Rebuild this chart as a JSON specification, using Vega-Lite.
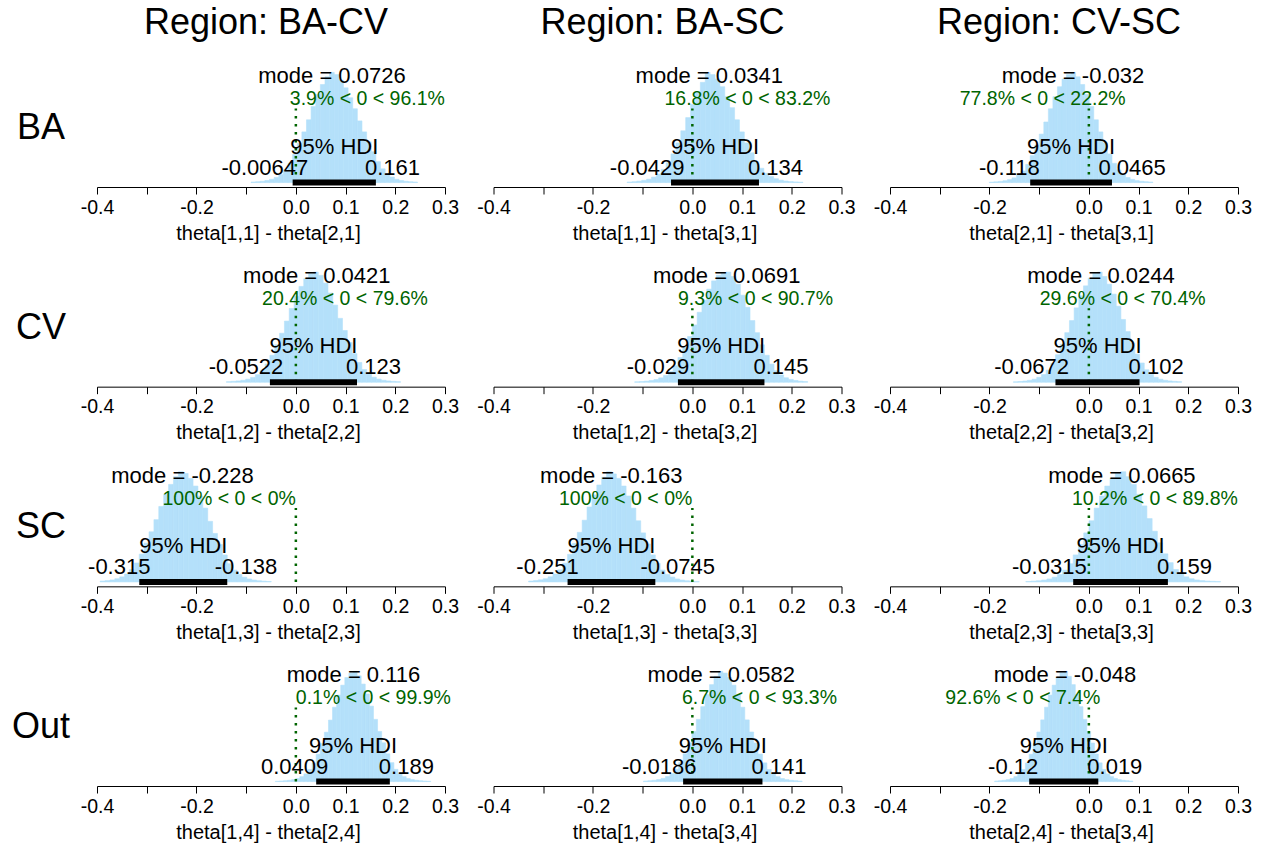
{
"$schema": "https://vega.github.io/schema/vega-lite/v6.json",
"background": "white",
"padding": {"left": 11, "top": 4, "right": 5, "bottom": 0},
"bounds": "flush",
"columns": 3,
"spacing": {"row": 80.67, "column": 48.5},
"datasets": {
"stats": [
{"p":1,"mode":0.0726,"lo":-0.00647,"hi":0.161,"mid":0.0773,"ml":"mode = 0.0726","cl":"3.9% < 0 < 96.1%","ll":"-0.00647","hl":"0.161"},
{"p":2,"mode":0.0341,"lo":-0.0429,"hi":0.134,"mid":0.0456,"ml":"mode = 0.0341","cl":"16.8% < 0 < 83.2%","ll":"-0.0429","hl":"0.134"},
{"p":3,"mode":-0.032,"lo":-0.118,"hi":0.0465,"mid":-0.0358,"ml":"mode = -0.032","cl":"77.8% < 0 < 22.2%","ll":"-0.118","hl":"0.0465"},
{"p":4,"mode":0.0421,"lo":-0.0522,"hi":0.123,"mid":0.0354,"ml":"mode = 0.0421","cl":"20.4% < 0 < 79.6%","ll":"-0.0522","hl":"0.123"},
{"p":5,"mode":0.0691,"lo":-0.029,"hi":0.145,"mid":0.058,"ml":"mode = 0.0691","cl":"9.3% < 0 < 90.7%","ll":"-0.029","hl":"0.145"},
{"p":6,"mode":0.0244,"lo":-0.0672,"hi":0.102,"mid":0.0174,"ml":"mode = 0.0244","cl":"29.6% < 0 < 70.4%","ll":"-0.0672","hl":"0.102"},
{"p":7,"mode":-0.228,"lo":-0.315,"hi":-0.138,"mid":-0.2265,"ml":"mode = -0.228","cl":"100% < 0 < 0%","ll":"-0.315","hl":"-0.138"},
{"p":8,"mode":-0.163,"lo":-0.251,"hi":-0.0745,"mid":-0.1628,"ml":"mode = -0.163","cl":"100% < 0 < 0%","ll":"-0.251","hl":"-0.0745"},
{"p":9,"mode":0.0665,"lo":-0.0315,"hi":0.159,"mid":0.0638,"ml":"mode = 0.0665","cl":"10.2% < 0 < 89.8%","ll":"-0.0315","hl":"0.159"},
{"p":10,"mode":0.116,"lo":0.0409,"hi":0.189,"mid":0.115,"ml":"mode = 0.116","cl":"0.1% < 0 < 99.9%","ll":"0.0409","hl":"0.189"},
{"p":11,"mode":0.0582,"lo":-0.0186,"hi":0.141,"mid":0.0612,"ml":"mode = 0.0582","cl":"6.7% < 0 < 93.3%","ll":"-0.0186","hl":"0.141"},
{"p":12,"mode":-0.048,"lo":-0.12,"hi":0.019,"mid":-0.0505,"ml":"mode = -0.048","cl":"92.6% < 0 < 7.4%","ll":"-0.12","hl":"0.019"}
],
"hist": [
{"p":1,"a":-0.0902,"b":-0.0809,"h":0.005},{"p":1,"a":-0.0809,"b":-0.0716,"h":0.008},{"p":1,"a":-0.0716,"b":-0.0623,"h":0.012},{"p":1,"a":-0.0623,"b":-0.053,"h":0.019},{"p":1,"a":-0.053,"b":-0.0437,"h":0.03},{"p":1,"a":-0.0437,"b":-0.0344,"h":0.047},{"p":1,"a":-0.0344,"b":-0.0251,"h":0.073},{"p":1,"a":-0.0251,"b":-0.0158,"h":0.115},{"p":1,"a":-0.0158,"b":-0.0065,"h":0.175},{"p":1,"a":-0.0065,"b":0.0028,"h":0.255},{"p":1,"a":0.0028,"b":0.0121,"h":0.355},{"p":1,"a":0.0121,"b":0.0214,"h":0.46},{"p":1,"a":0.0214,"b":0.0307,"h":0.57},{"p":1,"a":0.0307,"b":0.04,"h":0.69},{"p":1,"a":0.04,"b":0.0493,"h":0.8},{"p":1,"a":0.0493,"b":0.0586,"h":0.89},{"p":1,"a":0.0586,"b":0.0679,"h":0.96},{"p":1,"a":0.0679,"b":0.0772,"h":1.0},{"p":1,"a":0.0772,"b":0.0865,"h":0.98},{"p":1,"a":0.0865,"b":0.0958,"h":0.93},{"p":1,"a":0.0958,"b":0.1051,"h":0.86},{"p":1,"a":0.1051,"b":0.1144,"h":0.77},{"p":1,"a":0.1144,"b":0.1237,"h":0.67},{"p":1,"a":0.1237,"b":0.133,"h":0.56},{"p":1,"a":0.133,"b":0.1424,"h":0.46},{"p":1,"a":0.1424,"b":0.1517,"h":0.37},{"p":1,"a":0.1517,"b":0.161,"h":0.28},{"p":1,"a":0.161,"b":0.1703,"h":0.19},{"p":1,"a":0.1703,"b":0.1796,"h":0.125},{"p":1,"a":0.1796,"b":0.1889,"h":0.08},{"p":1,"a":0.1889,"b":0.1982,"h":0.05},{"p":1,"a":0.1982,"b":0.2075,"h":0.03},{"p":1,"a":0.2075,"b":0.2168,"h":0.019},{"p":1,"a":0.2168,"b":0.2261,"h":0.012},{"p":1,"a":0.2261,"b":0.2354,"h":0.008},{"p":1,"a":0.2354,"b":0.2447,"h":0.005},
{"p":2,"a":-0.1314,"b":-0.1215,"h":0.005},{"p":2,"a":-0.1215,"b":-0.1117,"h":0.008},{"p":2,"a":-0.1117,"b":-0.1019,"h":0.013},{"p":2,"a":-0.1019,"b":-0.092,"h":0.02},{"p":2,"a":-0.092,"b":-0.0822,"h":0.031},{"p":2,"a":-0.0822,"b":-0.0724,"h":0.05},{"p":2,"a":-0.0724,"b":-0.0626,"h":0.078},{"p":2,"a":-0.0626,"b":-0.0527,"h":0.12},{"p":2,"a":-0.0527,"b":-0.0429,"h":0.18},{"p":2,"a":-0.0429,"b":-0.0331,"h":0.26},{"p":2,"a":-0.0331,"b":-0.0232,"h":0.36},{"p":2,"a":-0.0232,"b":-0.0134,"h":0.47},{"p":2,"a":-0.0134,"b":-0.0036,"h":0.59},{"p":2,"a":-0.0036,"b":0.0062,"h":0.71},{"p":2,"a":0.0062,"b":0.0161,"h":0.82},{"p":2,"a":0.0161,"b":0.0259,"h":0.91},{"p":2,"a":0.0259,"b":0.0357,"h":1.0},{"p":2,"a":0.0357,"b":0.0456,"h":0.98},{"p":2,"a":0.0456,"b":0.0554,"h":0.94},{"p":2,"a":0.0554,"b":0.0652,"h":0.87},{"p":2,"a":0.0652,"b":0.075,"h":0.78},{"p":2,"a":0.075,"b":0.0849,"h":0.68},{"p":2,"a":0.0849,"b":0.0947,"h":0.57},{"p":2,"a":0.0947,"b":0.1045,"h":0.46},{"p":2,"a":0.1045,"b":0.1144,"h":0.36},{"p":2,"a":0.1144,"b":0.1242,"h":0.27},{"p":2,"a":0.1242,"b":0.134,"h":0.19},{"p":2,"a":0.134,"b":0.1438,"h":0.13},{"p":2,"a":0.1438,"b":0.1537,"h":0.085},{"p":2,"a":0.1537,"b":0.1635,"h":0.055},{"p":2,"a":0.1635,"b":0.1733,"h":0.035},{"p":2,"a":0.1733,"b":0.1831,"h":0.022},{"p":2,"a":0.1831,"b":0.193,"h":0.014},{"p":2,"a":0.193,"b":0.2028,"h":0.009},{"p":2,"a":0.2028,"b":0.2126,"h":0.006},{"p":2,"a":0.2126,"b":0.2225,"h":0.004},
{"p":3,"a":-0.2003,"b":-0.1911,"h":0.004},{"p":3,"a":-0.1911,"b":-0.182,"h":0.007},{"p":3,"a":-0.182,"b":-0.1728,"h":0.011},{"p":3,"a":-0.1728,"b":-0.1637,"h":0.017},{"p":3,"a":-0.1637,"b":-0.1546,"h":0.027},{"p":3,"a":-0.1546,"b":-0.1454,"h":0.043},{"p":3,"a":-0.1454,"b":-0.1363,"h":0.068},{"p":3,"a":-0.1363,"b":-0.1271,"h":0.105},{"p":3,"a":-0.1271,"b":-0.118,"h":0.165},{"p":3,"a":-0.118,"b":-0.1089,"h":0.245},{"p":3,"a":-0.1089,"b":-0.0997,"h":0.34},{"p":3,"a":-0.0997,"b":-0.0906,"h":0.44},{"p":3,"a":-0.0906,"b":-0.0814,"h":0.55},{"p":3,"a":-0.0814,"b":-0.0723,"h":0.67},{"p":3,"a":-0.0723,"b":-0.0632,"h":0.78},{"p":3,"a":-0.0632,"b":-0.054,"h":0.87},{"p":3,"a":-0.054,"b":-0.0449,"h":0.94},{"p":3,"a":-0.0449,"b":-0.0358,"h":0.98},{"p":3,"a":-0.0358,"b":-0.0266,"h":1.0},{"p":3,"a":-0.0266,"b":-0.0175,"h":0.96},{"p":3,"a":-0.0175,"b":-0.0083,"h":0.89},{"p":3,"a":-0.0083,"b":0.0008,"h":0.8},{"p":3,"a":0.0008,"b":0.0099,"h":0.69},{"p":3,"a":0.0099,"b":0.0191,"h":0.57},{"p":3,"a":0.0191,"b":0.0282,"h":0.46},{"p":3,"a":0.0282,"b":0.0374,"h":0.36},{"p":3,"a":0.0374,"b":0.0465,"h":0.26},{"p":3,"a":0.0465,"b":0.0556,"h":0.175},{"p":3,"a":0.0556,"b":0.0648,"h":0.115},{"p":3,"a":0.0648,"b":0.0739,"h":0.072},{"p":3,"a":0.0739,"b":0.0831,"h":0.046},{"p":3,"a":0.0831,"b":0.0922,"h":0.029},{"p":3,"a":0.0922,"b":0.1013,"h":0.018},{"p":3,"a":0.1013,"b":0.1105,"h":0.012},{"p":3,"a":0.1105,"b":0.1196,"h":0.008},{"p":3,"a":0.1196,"b":0.1288,"h":0.005},
{"p":4,"a":-0.1398,"b":-0.1301,"h":0.005},{"p":4,"a":-0.1301,"b":-0.1203,"h":0.008},{"p":4,"a":-0.1203,"b":-0.1106,"h":0.012},{"p":4,"a":-0.1106,"b":-0.1009,"h":0.018},{"p":4,"a":-0.1009,"b":-0.0911,"h":0.028},{"p":4,"a":-0.0911,"b":-0.0814,"h":0.044},{"p":4,"a":-0.0814,"b":-0.0717,"h":0.069},{"p":4,"a":-0.0717,"b":-0.0619,"h":0.108},{"p":4,"a":-0.0619,"b":-0.0522,"h":0.166},{"p":4,"a":-0.0522,"b":-0.0425,"h":0.245},{"p":4,"a":-0.0425,"b":-0.0327,"h":0.34},{"p":4,"a":-0.0327,"b":-0.023,"h":0.445},{"p":4,"a":-0.023,"b":-0.0133,"h":0.555},{"p":4,"a":-0.0133,"b":-0.0035,"h":0.67},{"p":4,"a":-0.0035,"b":0.0062,"h":0.78},{"p":4,"a":0.0062,"b":0.0159,"h":0.87},{"p":4,"a":0.0159,"b":0.0257,"h":0.94},{"p":4,"a":0.0257,"b":0.0354,"h":0.985},{"p":4,"a":0.0354,"b":0.0451,"h":1.0},{"p":4,"a":0.0451,"b":0.0549,"h":0.97},{"p":4,"a":0.0549,"b":0.0646,"h":0.9},{"p":4,"a":0.0646,"b":0.0743,"h":0.81},{"p":4,"a":0.0743,"b":0.0841,"h":0.7},{"p":4,"a":0.0841,"b":0.0938,"h":0.58},{"p":4,"a":0.0938,"b":0.1035,"h":0.47},{"p":4,"a":0.1035,"b":0.1133,"h":0.36},{"p":4,"a":0.1133,"b":0.123,"h":0.26},{"p":4,"a":0.123,"b":0.1327,"h":0.18},{"p":4,"a":0.1327,"b":0.1425,"h":0.115},{"p":4,"a":0.1425,"b":0.1522,"h":0.073},{"p":4,"a":0.1522,"b":0.1619,"h":0.046},{"p":4,"a":0.1619,"b":0.1717,"h":0.029},{"p":4,"a":0.1717,"b":0.1814,"h":0.018},{"p":4,"a":0.1814,"b":0.1911,"h":0.012},{"p":4,"a":0.1911,"b":0.2009,"h":0.008},{"p":4,"a":0.2009,"b":0.2106,"h":0.005},
{"p":5,"a":-0.116,"b":-0.1063,"h":0.004},{"p":5,"a":-0.1063,"b":-0.0967,"h":0.006},{"p":5,"a":-0.0967,"b":-0.087,"h":0.01},{"p":5,"a":-0.087,"b":-0.0773,"h":0.016},{"p":5,"a":-0.0773,"b":-0.0677,"h":0.025},{"p":5,"a":-0.0677,"b":-0.058,"h":0.04},{"p":5,"a":-0.058,"b":-0.0483,"h":0.062},{"p":5,"a":-0.0483,"b":-0.0387,"h":0.097},{"p":5,"a":-0.0387,"b":-0.029,"h":0.15},{"p":5,"a":-0.029,"b":-0.0193,"h":0.225},{"p":5,"a":-0.0193,"b":-0.0097,"h":0.315},{"p":5,"a":-0.0097,"b":0.0,"h":0.415},{"p":5,"a":0.0,"b":0.0097,"h":0.52},{"p":5,"a":0.0097,"b":0.0193,"h":0.635},{"p":5,"a":0.0193,"b":0.029,"h":0.745},{"p":5,"a":0.029,"b":0.0387,"h":0.845},{"p":5,"a":0.0387,"b":0.0483,"h":0.92},{"p":5,"a":0.0483,"b":0.058,"h":0.97},{"p":5,"a":0.058,"b":0.0677,"h":0.99},{"p":5,"a":0.0677,"b":0.0773,"h":1.0},{"p":5,"a":0.0773,"b":0.087,"h":0.96},{"p":5,"a":0.087,"b":0.0967,"h":0.89},{"p":5,"a":0.0967,"b":0.1063,"h":0.79},{"p":5,"a":0.1063,"b":0.116,"h":0.68},{"p":5,"a":0.116,"b":0.1257,"h":0.56},{"p":5,"a":0.1257,"b":0.1353,"h":0.45},{"p":5,"a":0.1353,"b":0.145,"h":0.34},{"p":5,"a":0.145,"b":0.1547,"h":0.245},{"p":5,"a":0.1547,"b":0.1643,"h":0.165},{"p":5,"a":0.1643,"b":0.174,"h":0.105},{"p":5,"a":0.174,"b":0.1837,"h":0.066},{"p":5,"a":0.1837,"b":0.1933,"h":0.041},{"p":5,"a":0.1933,"b":0.203,"h":0.026},{"p":5,"a":0.203,"b":0.2127,"h":0.016},{"p":5,"a":0.2127,"b":0.2223,"h":0.01},{"p":5,"a":0.2223,"b":0.232,"h":0.006},
{"p":6,"a":-0.1518,"b":-0.1424,"h":0.004},{"p":6,"a":-0.1424,"b":-0.133,"h":0.007},{"p":6,"a":-0.133,"b":-0.1236,"h":0.011},{"p":6,"a":-0.1236,"b":-0.1142,"h":0.018},{"p":6,"a":-0.1142,"b":-0.1048,"h":0.028},{"p":6,"a":-0.1048,"b":-0.0954,"h":0.045},{"p":6,"a":-0.0954,"b":-0.086,"h":0.07},{"p":6,"a":-0.086,"b":-0.0766,"h":0.11},{"p":6,"a":-0.0766,"b":-0.0672,"h":0.17},{"p":6,"a":-0.0672,"b":-0.0578,"h":0.25},{"p":6,"a":-0.0578,"b":-0.0484,"h":0.345},{"p":6,"a":-0.0484,"b":-0.039,"h":0.45},{"p":6,"a":-0.039,"b":-0.0296,"h":0.56},{"p":6,"a":-0.0296,"b":-0.0202,"h":0.675},{"p":6,"a":-0.0202,"b":-0.0108,"h":0.785},{"p":6,"a":-0.0108,"b":-0.0014,"h":0.875},{"p":6,"a":-0.0014,"b":0.008,"h":0.945},{"p":6,"a":0.008,"b":0.0174,"h":0.99},{"p":6,"a":0.0174,"b":0.0268,"h":1.0},{"p":6,"a":0.0268,"b":0.0362,"h":0.96},{"p":6,"a":0.0362,"b":0.0456,"h":0.89},{"p":6,"a":0.0456,"b":0.055,"h":0.8},{"p":6,"a":0.055,"b":0.0644,"h":0.69},{"p":6,"a":0.0644,"b":0.0738,"h":0.57},{"p":6,"a":0.0738,"b":0.0832,"h":0.46},{"p":6,"a":0.0832,"b":0.0926,"h":0.355},{"p":6,"a":0.0926,"b":0.102,"h":0.255},{"p":6,"a":0.102,"b":0.1114,"h":0.175},{"p":6,"a":0.1114,"b":0.1208,"h":0.113},{"p":6,"a":0.1208,"b":0.1302,"h":0.072},{"p":6,"a":0.1302,"b":0.1396,"h":0.045},{"p":6,"a":0.1396,"b":0.149,"h":0.028},{"p":6,"a":0.149,"b":0.1584,"h":0.018},{"p":6,"a":0.1584,"b":0.1678,"h":0.012},{"p":6,"a":0.1678,"b":0.1772,"h":0.008},{"p":6,"a":0.1772,"b":0.1866,"h":0.005},
{"p":7,"a":-0.3937,"b":-0.3838,"h":0.008},{"p":7,"a":-0.3838,"b":-0.374,"h":0.012},{"p":7,"a":-0.374,"b":-0.3642,"h":0.018},{"p":7,"a":-0.3642,"b":-0.3543,"h":0.029},{"p":7,"a":-0.3543,"b":-0.3445,"h":0.046},{"p":7,"a":-0.3445,"b":-0.3347,"h":0.072},{"p":7,"a":-0.3347,"b":-0.3248,"h":0.112},{"p":7,"a":-0.3248,"b":-0.315,"h":0.172},{"p":7,"a":-0.315,"b":-0.3052,"h":0.252},{"p":7,"a":-0.3052,"b":-0.2953,"h":0.352},{"p":7,"a":-0.2953,"b":-0.2855,"h":0.455},{"p":7,"a":-0.2855,"b":-0.2757,"h":0.565},{"p":7,"a":-0.2757,"b":-0.2658,"h":0.685},{"p":7,"a":-0.2658,"b":-0.256,"h":0.795},{"p":7,"a":-0.256,"b":-0.2462,"h":0.885},{"p":7,"a":-0.2462,"b":-0.2363,"h":0.955},{"p":7,"a":-0.2363,"b":-0.2265,"h":1.0},{"p":7,"a":-0.2265,"b":-0.2167,"h":0.985},{"p":7,"a":-0.2167,"b":-0.2068,"h":0.94},{"p":7,"a":-0.2068,"b":-0.197,"h":0.87},{"p":7,"a":-0.197,"b":-0.1872,"h":0.78},{"p":7,"a":-0.1872,"b":-0.1773,"h":0.67},{"p":7,"a":-0.1773,"b":-0.1675,"h":0.55},{"p":7,"a":-0.1675,"b":-0.1577,"h":0.44},{"p":7,"a":-0.1577,"b":-0.1478,"h":0.34},{"p":7,"a":-0.1478,"b":-0.138,"h":0.245},{"p":7,"a":-0.138,"b":-0.1282,"h":0.165},{"p":7,"a":-0.1282,"b":-0.1183,"h":0.107},{"p":7,"a":-0.1183,"b":-0.1085,"h":0.068},{"p":7,"a":-0.1085,"b":-0.0987,"h":0.043},{"p":7,"a":-0.0987,"b":-0.0888,"h":0.027},{"p":7,"a":-0.0888,"b":-0.079,"h":0.017},{"p":7,"a":-0.079,"b":-0.0692,"h":0.011},{"p":7,"a":-0.0692,"b":-0.0593,"h":0.007},{"p":7,"a":-0.0593,"b":-0.0495,"h":0.004},
{"p":8,"a":-0.3294,"b":-0.3196,"h":0.008},{"p":8,"a":-0.3196,"b":-0.3098,"h":0.012},{"p":8,"a":-0.3098,"b":-0.3,"h":0.019},{"p":8,"a":-0.3,"b":-0.2902,"h":0.029},{"p":8,"a":-0.2902,"b":-0.2804,"h":0.046},{"p":8,"a":-0.2804,"b":-0.2706,"h":0.071},{"p":8,"a":-0.2706,"b":-0.2608,"h":0.11},{"p":8,"a":-0.2608,"b":-0.251,"h":0.17},{"p":8,"a":-0.251,"b":-0.2412,"h":0.25},{"p":8,"a":-0.2412,"b":-0.2314,"h":0.35},{"p":8,"a":-0.2314,"b":-0.2216,"h":0.45},{"p":8,"a":-0.2216,"b":-0.2118,"h":0.56},{"p":8,"a":-0.2118,"b":-0.202,"h":0.68},{"p":8,"a":-0.202,"b":-0.1922,"h":0.79},{"p":8,"a":-0.1922,"b":-0.1824,"h":0.88},{"p":8,"a":-0.1824,"b":-0.1726,"h":0.95},{"p":8,"a":-0.1726,"b":-0.1628,"h":1.0},{"p":8,"a":-0.1628,"b":-0.1529,"h":0.98},{"p":8,"a":-0.1529,"b":-0.1431,"h":0.94},{"p":8,"a":-0.1431,"b":-0.1333,"h":0.87},{"p":8,"a":-0.1333,"b":-0.1235,"h":0.78},{"p":8,"a":-0.1235,"b":-0.1137,"h":0.67},{"p":8,"a":-0.1137,"b":-0.1039,"h":0.555},{"p":8,"a":-0.1039,"b":-0.0941,"h":0.445},{"p":8,"a":-0.0941,"b":-0.0843,"h":0.345},{"p":8,"a":-0.0843,"b":-0.0745,"h":0.245},{"p":8,"a":-0.0745,"b":-0.0647,"h":0.168},{"p":8,"a":-0.0647,"b":-0.0549,"h":0.108},{"p":8,"a":-0.0549,"b":-0.0451,"h":0.069},{"p":8,"a":-0.0451,"b":-0.0353,"h":0.044},{"p":8,"a":-0.0353,"b":-0.0255,"h":0.027},{"p":8,"a":-0.0255,"b":-0.0157,"h":0.017},{"p":8,"a":-0.0157,"b":-0.0059,"h":0.011},{"p":8,"a":-0.0059,"b":0.0039,"h":0.006},{"p":8,"a":0.0039,"b":0.0138,"h":0.003},
{"p":9,"a":-0.1268,"b":-0.1162,"h":0.004},{"p":9,"a":-0.1162,"b":-0.1056,"h":0.007},{"p":9,"a":-0.1056,"b":-0.095,"h":0.011},{"p":9,"a":-0.095,"b":-0.0844,"h":0.017},{"p":9,"a":-0.0844,"b":-0.0738,"h":0.027},{"p":9,"a":-0.0738,"b":-0.0633,"h":0.043},{"p":9,"a":-0.0633,"b":-0.0527,"h":0.068},{"p":9,"a":-0.0527,"b":-0.0421,"h":0.107},{"p":9,"a":-0.0421,"b":-0.0315,"h":0.165},{"p":9,"a":-0.0315,"b":-0.0209,"h":0.245},{"p":9,"a":-0.0209,"b":-0.0103,"h":0.34},{"p":9,"a":-0.0103,"b":0.0003,"h":0.445},{"p":9,"a":0.0003,"b":0.0108,"h":0.555},{"p":9,"a":0.0108,"b":0.0214,"h":0.67},{"p":9,"a":0.0214,"b":0.032,"h":0.78},{"p":9,"a":0.032,"b":0.0426,"h":0.87},{"p":9,"a":0.0426,"b":0.0532,"h":0.94},{"p":9,"a":0.0532,"b":0.0638,"h":0.985},{"p":9,"a":0.0638,"b":0.0743,"h":1.0},{"p":9,"a":0.0743,"b":0.0849,"h":0.955},{"p":9,"a":0.0849,"b":0.0955,"h":0.885},{"p":9,"a":0.0955,"b":0.1061,"h":0.795},{"p":9,"a":0.1061,"b":0.1167,"h":0.69},{"p":9,"a":0.1167,"b":0.1273,"h":0.575},{"p":9,"a":0.1273,"b":0.1378,"h":0.46},{"p":9,"a":0.1378,"b":0.1484,"h":0.355},{"p":9,"a":0.1484,"b":0.159,"h":0.255},{"p":9,"a":0.159,"b":0.1696,"h":0.175},{"p":9,"a":0.1696,"b":0.1802,"h":0.113},{"p":9,"a":0.1802,"b":0.1908,"h":0.072},{"p":9,"a":0.1908,"b":0.2013,"h":0.046},{"p":9,"a":0.2013,"b":0.2119,"h":0.029},{"p":9,"a":0.2119,"b":0.2225,"h":0.018},{"p":9,"a":0.2225,"b":0.2331,"h":0.012},{"p":9,"a":0.2331,"b":0.2437,"h":0.008},{"p":9,"a":0.2437,"b":0.2543,"h":0.005},{"p":9,"a":0.2543,"b":0.2649,"h":0.003},
{"p":10,"a":-0.0414,"b":-0.0332,"h":0.003},{"p":10,"a":-0.0332,"b":-0.0249,"h":0.005},{"p":10,"a":-0.0249,"b":-0.0167,"h":0.008},{"p":10,"a":-0.0167,"b":-0.0085,"h":0.012},{"p":10,"a":-0.0085,"b":-0.0002,"h":0.018},{"p":10,"a":-0.0002,"b":0.008,"h":0.028},{"p":10,"a":0.008,"b":0.0162,"h":0.045},{"p":10,"a":0.0162,"b":0.0244,"h":0.07},{"p":10,"a":0.0244,"b":0.0327,"h":0.11},{"p":10,"a":0.0327,"b":0.0409,"h":0.168},{"p":10,"a":0.0409,"b":0.0491,"h":0.248},{"p":10,"a":0.0491,"b":0.0574,"h":0.345},{"p":10,"a":0.0574,"b":0.0656,"h":0.448},{"p":10,"a":0.0656,"b":0.0738,"h":0.558},{"p":10,"a":0.0738,"b":0.082,"h":0.675},{"p":10,"a":0.082,"b":0.0903,"h":0.785},{"p":10,"a":0.0903,"b":0.0985,"h":0.875},{"p":10,"a":0.0985,"b":0.1067,"h":0.945},{"p":10,"a":0.1067,"b":0.115,"h":0.985},{"p":10,"a":0.115,"b":0.1232,"h":1.0},{"p":10,"a":0.1232,"b":0.1314,"h":0.96},{"p":10,"a":0.1314,"b":0.1396,"h":0.885},{"p":10,"a":0.1396,"b":0.1479,"h":0.795},{"p":10,"a":0.1479,"b":0.1561,"h":0.685},{"p":10,"a":0.1561,"b":0.1643,"h":0.565},{"p":10,"a":0.1643,"b":0.1726,"h":0.455},{"p":10,"a":0.1726,"b":0.1808,"h":0.352},{"p":10,"a":0.1808,"b":0.189,"h":0.252},{"p":10,"a":0.189,"b":0.1972,"h":0.172},{"p":10,"a":0.1972,"b":0.2055,"h":0.111},{"p":10,"a":0.2055,"b":0.2137,"h":0.071},{"p":10,"a":0.2137,"b":0.2219,"h":0.045},{"p":10,"a":0.2219,"b":0.2302,"h":0.028},{"p":10,"a":0.2302,"b":0.2384,"h":0.018},{"p":10,"a":0.2384,"b":0.2466,"h":0.012},{"p":10,"a":0.2466,"b":0.2548,"h":0.008},{"p":10,"a":0.2548,"b":0.2631,"h":0.005},{"p":10,"a":0.2631,"b":0.2713,"h":0.003},
{"p":11,"a":-0.0984,"b":-0.0895,"h":0.005},{"p":11,"a":-0.0895,"b":-0.0807,"h":0.008},{"p":11,"a":-0.0807,"b":-0.0718,"h":0.012},{"p":11,"a":-0.0718,"b":-0.0629,"h":0.019},{"p":11,"a":-0.0629,"b":-0.0541,"h":0.029},{"p":11,"a":-0.0541,"b":-0.0452,"h":0.046},{"p":11,"a":-0.0452,"b":-0.0363,"h":0.072},{"p":11,"a":-0.0363,"b":-0.0275,"h":0.112},{"p":11,"a":-0.0275,"b":-0.0186,"h":0.172},{"p":11,"a":-0.0186,"b":-0.0097,"h":0.252},{"p":11,"a":-0.0097,"b":-0.0009,"h":0.352},{"p":11,"a":-0.0009,"b":0.008,"h":0.455},{"p":11,"a":0.008,"b":0.0169,"h":0.565},{"p":11,"a":0.0169,"b":0.0257,"h":0.68},{"p":11,"a":0.0257,"b":0.0346,"h":0.79},{"p":11,"a":0.0346,"b":0.0435,"h":0.88},{"p":11,"a":0.0435,"b":0.0523,"h":0.955},{"p":11,"a":0.0523,"b":0.0612,"h":1.0},{"p":11,"a":0.0612,"b":0.0701,"h":0.985},{"p":11,"a":0.0701,"b":0.0789,"h":0.945},{"p":11,"a":0.0789,"b":0.0878,"h":0.875},{"p":11,"a":0.0878,"b":0.0967,"h":0.785},{"p":11,"a":0.0967,"b":0.1055,"h":0.675},{"p":11,"a":0.1055,"b":0.1144,"h":0.56},{"p":11,"a":0.1144,"b":0.1233,"h":0.45},{"p":11,"a":0.1233,"b":0.1321,"h":0.35},{"p":11,"a":0.1321,"b":0.141,"h":0.25},{"p":11,"a":0.141,"b":0.1499,"h":0.17},{"p":11,"a":0.1499,"b":0.1587,"h":0.11},{"p":11,"a":0.1587,"b":0.1676,"h":0.07},{"p":11,"a":0.1676,"b":0.1765,"h":0.045},{"p":11,"a":0.1765,"b":0.1853,"h":0.028},{"p":11,"a":0.1853,"b":0.1942,"h":0.018},{"p":11,"a":0.1942,"b":0.2031,"h":0.012},{"p":11,"a":0.2031,"b":0.2119,"h":0.008},{"p":11,"a":0.2119,"b":0.2208,"h":0.005},
{"p":12,"a":-0.1895,"b":-0.1818,"h":0.005},{"p":12,"a":-0.1818,"b":-0.1741,"h":0.008},{"p":12,"a":-0.1741,"b":-0.1663,"h":0.012},{"p":12,"a":-0.1663,"b":-0.1586,"h":0.018},{"p":12,"a":-0.1586,"b":-0.1509,"h":0.028},{"p":12,"a":-0.1509,"b":-0.1432,"h":0.045},{"p":12,"a":-0.1432,"b":-0.1354,"h":0.07},{"p":12,"a":-0.1354,"b":-0.1277,"h":0.11},{"p":12,"a":-0.1277,"b":-0.12,"h":0.168},{"p":12,"a":-0.12,"b":-0.1123,"h":0.248},{"p":12,"a":-0.1123,"b":-0.1046,"h":0.345},{"p":12,"a":-0.1046,"b":-0.0968,"h":0.45},{"p":12,"a":-0.0968,"b":-0.0891,"h":0.56},{"p":12,"a":-0.0891,"b":-0.0814,"h":0.675},{"p":12,"a":-0.0814,"b":-0.0737,"h":0.785},{"p":12,"a":-0.0737,"b":-0.0659,"h":0.875},{"p":12,"a":-0.0659,"b":-0.0582,"h":0.945},{"p":12,"a":-0.0582,"b":-0.0505,"h":0.99},{"p":12,"a":-0.0505,"b":-0.0428,"h":1.0},{"p":12,"a":-0.0428,"b":-0.0351,"h":0.955},{"p":12,"a":-0.0351,"b":-0.0273,"h":0.88},{"p":12,"a":-0.0273,"b":-0.0196,"h":0.79},{"p":12,"a":-0.0196,"b":-0.0119,"h":0.68},{"p":12,"a":-0.0119,"b":-0.0042,"h":0.565},{"p":12,"a":-0.0042,"b":0.0036,"h":0.455},{"p":12,"a":0.0036,"b":0.0113,"h":0.35},{"p":12,"a":0.0113,"b":0.019,"h":0.25},{"p":12,"a":0.019,"b":0.0267,"h":0.17},{"p":12,"a":0.0267,"b":0.0344,"h":0.11},{"p":12,"a":0.0344,"b":0.0422,"h":0.07},{"p":12,"a":0.0422,"b":0.0499,"h":0.045},{"p":12,"a":0.0499,"b":0.0576,"h":0.028},{"p":12,"a":0.0576,"b":0.0653,"h":0.018},{"p":12,"a":0.0653,"b":0.073,"h":0.012},{"p":12,"a":0.073,"b":0.0808,"h":0.008},{"p":12,"a":0.0808,"b":0.0885,"h":0.005}
]
},
"concat": [
{"width":348,"height":119,"title":"Region: BA-CV","layer":[
 {"data":{"name":"hist"},"transform":[{"filter":"datum.p==1"}],"mark":{"type":"rect","color":"#b4e0fa","stroke":"#b4e0fa","strokeWidth":0.6},
  "encoding":{"x":{"field":"a","type":"quantitative","scale":{"domain":[-0.4,0.3],"nice":false,"zero":false},"axis":{"title":"theta[1,1] - theta[2,1]","values":[-0.4,-0.3,-0.2,-0.1,0,0.1,0.2,0.3],"labelExpr":"(abs(datum.value+0.3)<0.001 || abs(datum.value+0.1)<0.001) ? '' : (datum.value < -0.001 ? '-' + format(-datum.value,'.1f') : format(abs(datum.value),'.1f'))"}},"x2":{"field":"b"},"y":{"field":"h","type":"quantitative","scale":{"domain":[-0.04,1.04],"nice":false,"zero":false},"axis":{"title":"BA"}},"y2":{"datum":0}}},
 {"data":{"name":"stats"},"transform":[{"filter":"datum.p==1"}],"layer":[
  {"mark":{"type":"rule","color":"#006400","strokeWidth":2.5,"strokeDash":[2.5,5.5]},"encoding":{"x":{"datum":0},"y":{"datum":0},"y2":{"datum":0.672}}},
  {"mark":{"type":"text","fontSize":22,"baseline":"alphabetic","color":"black"},"encoding":{"x":{"field":"mode","type":"quantitative"},"y":{"datum":0.9},"text":{"field":"ml"}}},
  {"mark":{"type":"text","fontSize":19.5,"color":"#006400","align":"left","dx":-6,"baseline":"alphabetic"},"encoding":{"x":{"datum":0},"y":{"datum":0.7},"text":{"field":"cl"}}},
  {"mark":{"type":"rule","color":"black","strokeWidth":6,"strokeCap":"butt"},"encoding":{"x":{"field":"lo","type":"quantitative"},"x2":{"field":"hi"},"y":{"datum":0}}},
  {"mark":{"type":"text","fontSize":22,"baseline":"alphabetic","color":"black","dy":-29},"encoding":{"x":{"field":"mid","type":"quantitative"},"y":{"datum":0},"text":{"value":"95% HDI"}}},
  {"mark":{"type":"text","fontSize":22,"baseline":"alphabetic","color":"black","align":"left","dx":-71.2,"dy":-8},"encoding":{"x":{"field":"lo","type":"quantitative"},"y":{"datum":0},"text":{"field":"ll"}}},
  {"mark":{"type":"text","fontSize":22,"baseline":"alphabetic","color":"black","align":"left","dx":-11,"dy":-8},"encoding":{"x":{"field":"hi","type":"quantitative"},"y":{"datum":0},"text":{"field":"hl"}}}
 ]}
]},
{"width":348,"height":119,"title":"Region: BA-SC","layer":[
 {"data":{"name":"hist"},"transform":[{"filter":"datum.p==2"}],"mark":{"type":"rect","color":"#b4e0fa","stroke":"#b4e0fa","strokeWidth":0.6},
  "encoding":{"x":{"field":"a","type":"quantitative","scale":{"domain":[-0.4,0.3],"nice":false,"zero":false},"axis":{"title":"theta[1,1] - theta[3,1]","values":[-0.4,-0.3,-0.2,-0.1,0,0.1,0.2,0.3],"labelExpr":"(abs(datum.value+0.3)<0.001 || abs(datum.value+0.1)<0.001) ? '' : (datum.value < -0.001 ? '-' + format(-datum.value,'.1f') : format(abs(datum.value),'.1f'))"}},"x2":{"field":"b"},"y":{"field":"h","type":"quantitative","scale":{"domain":[-0.04,1.04],"nice":false,"zero":false},"axis":{"title":null}},"y2":{"datum":0}}},
 {"data":{"name":"stats"},"transform":[{"filter":"datum.p==2"}],"layer":[
  {"mark":{"type":"rule","color":"#006400","strokeWidth":2.5,"strokeDash":[2.5,5.5]},"encoding":{"x":{"datum":0},"y":{"datum":0},"y2":{"datum":0.672}}},
  {"mark":{"type":"text","fontSize":22,"baseline":"alphabetic","color":"black"},"encoding":{"x":{"field":"mode","type":"quantitative"},"y":{"datum":0.9},"text":{"field":"ml"}}},
  {"mark":{"type":"text","fontSize":19.5,"color":"#006400","align":"left","dx":-27.9,"baseline":"alphabetic"},"encoding":{"x":{"datum":0},"y":{"datum":0.7},"text":{"field":"cl"}}},
  {"mark":{"type":"rule","color":"black","strokeWidth":6,"strokeCap":"butt"},"encoding":{"x":{"field":"lo","type":"quantitative"},"x2":{"field":"hi"},"y":{"datum":0}}},
  {"mark":{"type":"text","fontSize":22,"baseline":"alphabetic","color":"black","dy":-29},"encoding":{"x":{"field":"mid","type":"quantitative"},"y":{"datum":0},"text":{"value":"95% HDI"}}},
  {"mark":{"type":"text","fontSize":22,"baseline":"alphabetic","color":"black","align":"left","dx":-61.2,"dy":-8},"encoding":{"x":{"field":"lo","type":"quantitative"},"y":{"datum":0},"text":{"field":"ll"}}},
  {"mark":{"type":"text","fontSize":22,"baseline":"alphabetic","color":"black","align":"left","dx":-11,"dy":-8},"encoding":{"x":{"field":"hi","type":"quantitative"},"y":{"datum":0},"text":{"field":"hl"}}}
 ]}
]},
{"width":348,"height":119,"title":"Region: CV-SC","layer":[
 {"data":{"name":"hist"},"transform":[{"filter":"datum.p==3"}],"mark":{"type":"rect","color":"#b4e0fa","stroke":"#b4e0fa","strokeWidth":0.6},
  "encoding":{"x":{"field":"a","type":"quantitative","scale":{"domain":[-0.4,0.3],"nice":false,"zero":false},"axis":{"title":"theta[2,1] - theta[3,1]","values":[-0.4,-0.3,-0.2,-0.1,0,0.1,0.2,0.3],"labelExpr":"(abs(datum.value+0.3)<0.001 || abs(datum.value+0.1)<0.001) ? '' : (datum.value < -0.001 ? '-' + format(-datum.value,'.1f') : format(abs(datum.value),'.1f'))"}},"x2":{"field":"b"},"y":{"field":"h","type":"quantitative","scale":{"domain":[-0.04,1.04],"nice":false,"zero":false},"axis":{"title":null}},"y2":{"datum":0}}},
 {"data":{"name":"stats"},"transform":[{"filter":"datum.p==3"}],"layer":[
  {"mark":{"type":"rule","color":"#006400","strokeWidth":2.5,"strokeDash":[2.5,5.5]},"encoding":{"x":{"datum":0},"y":{"datum":0},"y2":{"datum":0.672}}},
  {"mark":{"type":"text","fontSize":22,"baseline":"alphabetic","color":"black"},"encoding":{"x":{"field":"mode","type":"quantitative"},"y":{"datum":0.9},"text":{"field":"ml"}}},
  {"mark":{"type":"text","fontSize":19.5,"color":"#006400","align":"left","dx":-129.1,"baseline":"alphabetic"},"encoding":{"x":{"datum":0},"y":{"datum":0.7},"text":{"field":"cl"}}},
  {"mark":{"type":"rule","color":"black","strokeWidth":6,"strokeCap":"butt"},"encoding":{"x":{"field":"lo","type":"quantitative"},"x2":{"field":"hi"},"y":{"datum":0}}},
  {"mark":{"type":"text","fontSize":22,"baseline":"alphabetic","color":"black","dy":-29},"encoding":{"x":{"field":"mid","type":"quantitative"},"y":{"datum":0},"text":{"value":"95% HDI"}}},
  {"mark":{"type":"text","fontSize":22,"baseline":"alphabetic","color":"black","align":"left","dx":-51.2,"dy":-8},"encoding":{"x":{"field":"lo","type":"quantitative"},"y":{"datum":0},"text":{"field":"ll"}}},
  {"mark":{"type":"text","fontSize":22,"baseline":"alphabetic","color":"black","align":"left","dx":-13.5,"dy":-8},"encoding":{"x":{"field":"hi","type":"quantitative"},"y":{"datum":0},"text":{"field":"hl"}}}
 ]}
]},
{"width":348,"height":119,"layer":[
 {"data":{"name":"hist"},"transform":[{"filter":"datum.p==4"}],"mark":{"type":"rect","color":"#b4e0fa","stroke":"#b4e0fa","strokeWidth":0.6},
  "encoding":{"x":{"field":"a","type":"quantitative","scale":{"domain":[-0.4,0.3],"nice":false,"zero":false},"axis":{"title":"theta[1,2] - theta[2,2]","values":[-0.4,-0.3,-0.2,-0.1,0,0.1,0.2,0.3],"labelExpr":"(abs(datum.value+0.3)<0.001 || abs(datum.value+0.1)<0.001) ? '' : (datum.value < -0.001 ? '-' + format(-datum.value,'.1f') : format(abs(datum.value),'.1f'))"}},"x2":{"field":"b"},"y":{"field":"h","type":"quantitative","scale":{"domain":[-0.04,1.04],"nice":false,"zero":false},"axis":{"title":"CV"}},"y2":{"datum":0}}},
 {"data":{"name":"stats"},"transform":[{"filter":"datum.p==4"}],"layer":[
  {"mark":{"type":"rule","color":"#006400","strokeWidth":2.5,"strokeDash":[2.5,5.5]},"encoding":{"x":{"datum":0},"y":{"datum":0},"y2":{"datum":0.672}}},
  {"mark":{"type":"text","fontSize":22,"baseline":"alphabetic","color":"black"},"encoding":{"x":{"field":"mode","type":"quantitative"},"y":{"datum":0.9},"text":{"field":"ml"}}},
  {"mark":{"type":"text","fontSize":19.5,"color":"#006400","align":"left","dx":-33.8,"baseline":"alphabetic"},"encoding":{"x":{"datum":0},"y":{"datum":0.7},"text":{"field":"cl"}}},
  {"mark":{"type":"rule","color":"black","strokeWidth":6,"strokeCap":"butt"},"encoding":{"x":{"field":"lo","type":"quantitative"},"x2":{"field":"hi"},"y":{"datum":0}}},
  {"mark":{"type":"text","fontSize":22,"baseline":"alphabetic","color":"black","dy":-29},"encoding":{"x":{"field":"mid","type":"quantitative"},"y":{"datum":0},"text":{"value":"95% HDI"}}},
  {"mark":{"type":"text","fontSize":22,"baseline":"alphabetic","color":"black","align":"left","dx":-61.2,"dy":-8},"encoding":{"x":{"field":"lo","type":"quantitative"},"y":{"datum":0},"text":{"field":"ll"}}},
  {"mark":{"type":"text","fontSize":22,"baseline":"alphabetic","color":"black","align":"left","dx":-11,"dy":-8},"encoding":{"x":{"field":"hi","type":"quantitative"},"y":{"datum":0},"text":{"field":"hl"}}}
 ]}
]},
{"width":348,"height":119,"layer":[
 {"data":{"name":"hist"},"transform":[{"filter":"datum.p==5"}],"mark":{"type":"rect","color":"#b4e0fa","stroke":"#b4e0fa","strokeWidth":0.6},
  "encoding":{"x":{"field":"a","type":"quantitative","scale":{"domain":[-0.4,0.3],"nice":false,"zero":false},"axis":{"title":"theta[1,2] - theta[3,2]","values":[-0.4,-0.3,-0.2,-0.1,0,0.1,0.2,0.3],"labelExpr":"(abs(datum.value+0.3)<0.001 || abs(datum.value+0.1)<0.001) ? '' : (datum.value < -0.001 ? '-' + format(-datum.value,'.1f') : format(abs(datum.value),'.1f'))"}},"x2":{"field":"b"},"y":{"field":"h","type":"quantitative","scale":{"domain":[-0.04,1.04],"nice":false,"zero":false},"axis":{"title":null}},"y2":{"datum":0}}},
 {"data":{"name":"stats"},"transform":[{"filter":"datum.p==5"}],"layer":[
  {"mark":{"type":"rule","color":"#006400","strokeWidth":2.5,"strokeDash":[2.5,5.5]},"encoding":{"x":{"datum":0},"y":{"datum":0},"y2":{"datum":0.672}}},
  {"mark":{"type":"text","fontSize":22,"baseline":"alphabetic","color":"black"},"encoding":{"x":{"field":"mode","type":"quantitative"},"y":{"datum":0.9},"text":{"field":"ml"}}},
  {"mark":{"type":"text","fontSize":19.5,"color":"#006400","align":"left","dx":-14.4,"baseline":"alphabetic"},"encoding":{"x":{"datum":0},"y":{"datum":0.7},"text":{"field":"cl"}}},
  {"mark":{"type":"rule","color":"black","strokeWidth":6,"strokeCap":"butt"},"encoding":{"x":{"field":"lo","type":"quantitative"},"x2":{"field":"hi"},"y":{"datum":0}}},
  {"mark":{"type":"text","fontSize":22,"baseline":"alphabetic","color":"black","dy":-29},"encoding":{"x":{"field":"mid","type":"quantitative"},"y":{"datum":0},"text":{"value":"95% HDI"}}},
  {"mark":{"type":"text","fontSize":22,"baseline":"alphabetic","color":"black","align":"left","dx":-51.2,"dy":-8},"encoding":{"x":{"field":"lo","type":"quantitative"},"y":{"datum":0},"text":{"field":"ll"}}},
  {"mark":{"type":"text","fontSize":22,"baseline":"alphabetic","color":"black","align":"left","dx":-11,"dy":-8},"encoding":{"x":{"field":"hi","type":"quantitative"},"y":{"datum":0},"text":{"field":"hl"}}}
 ]}
]},
{"width":348,"height":119,"layer":[
 {"data":{"name":"hist"},"transform":[{"filter":"datum.p==6"}],"mark":{"type":"rect","color":"#b4e0fa","stroke":"#b4e0fa","strokeWidth":0.6},
  "encoding":{"x":{"field":"a","type":"quantitative","scale":{"domain":[-0.4,0.3],"nice":false,"zero":false},"axis":{"title":"theta[2,2] - theta[3,2]","values":[-0.4,-0.3,-0.2,-0.1,0,0.1,0.2,0.3],"labelExpr":"(abs(datum.value+0.3)<0.001 || abs(datum.value+0.1)<0.001) ? '' : (datum.value < -0.001 ? '-' + format(-datum.value,'.1f') : format(abs(datum.value),'.1f'))"}},"x2":{"field":"b"},"y":{"field":"h","type":"quantitative","scale":{"domain":[-0.04,1.04],"nice":false,"zero":false},"axis":{"title":null}},"y2":{"datum":0}}},
 {"data":{"name":"stats"},"transform":[{"filter":"datum.p==6"}],"layer":[
  {"mark":{"type":"rule","color":"#006400","strokeWidth":2.5,"strokeDash":[2.5,5.5]},"encoding":{"x":{"datum":0},"y":{"datum":0},"y2":{"datum":0.672}}},
  {"mark":{"type":"text","fontSize":22,"baseline":"alphabetic","color":"black"},"encoding":{"x":{"field":"mode","type":"quantitative"},"y":{"datum":0.9},"text":{"field":"ml"}}},
  {"mark":{"type":"text","fontSize":19.5,"color":"#006400","align":"left","dx":-49.1,"baseline":"alphabetic"},"encoding":{"x":{"datum":0},"y":{"datum":0.7},"text":{"field":"cl"}}},
  {"mark":{"type":"rule","color":"black","strokeWidth":6,"strokeCap":"butt"},"encoding":{"x":{"field":"lo","type":"quantitative"},"x2":{"field":"hi"},"y":{"datum":0}}},
  {"mark":{"type":"text","fontSize":22,"baseline":"alphabetic","color":"black","dy":-29},"encoding":{"x":{"field":"mid","type":"quantitative"},"y":{"datum":0},"text":{"value":"95% HDI"}}},
  {"mark":{"type":"text","fontSize":22,"baseline":"alphabetic","color":"black","align":"left","dx":-61.2,"dy":-8},"encoding":{"x":{"field":"lo","type":"quantitative"},"y":{"datum":0},"text":{"field":"ll"}}},
  {"mark":{"type":"text","fontSize":22,"baseline":"alphabetic","color":"black","align":"left","dx":-11,"dy":-8},"encoding":{"x":{"field":"hi","type":"quantitative"},"y":{"datum":0},"text":{"field":"hl"}}}
 ]}
]},
{"width":348,"height":119,"layer":[
 {"data":{"name":"hist"},"transform":[{"filter":"datum.p==7"}],"mark":{"type":"rect","color":"#b4e0fa","stroke":"#b4e0fa","strokeWidth":0.6},
  "encoding":{"x":{"field":"a","type":"quantitative","scale":{"domain":[-0.4,0.3],"nice":false,"zero":false},"axis":{"title":"theta[1,3] - theta[2,3]","values":[-0.4,-0.3,-0.2,-0.1,0,0.1,0.2,0.3],"labelExpr":"(abs(datum.value+0.3)<0.001 || abs(datum.value+0.1)<0.001) ? '' : (datum.value < -0.001 ? '-' + format(-datum.value,'.1f') : format(abs(datum.value),'.1f'))"}},"x2":{"field":"b"},"y":{"field":"h","type":"quantitative","scale":{"domain":[-0.04,1.04],"nice":false,"zero":false},"axis":{"title":"SC"}},"y2":{"datum":0}}},
 {"data":{"name":"stats"},"transform":[{"filter":"datum.p==7"}],"layer":[
  {"mark":{"type":"rule","color":"#006400","strokeWidth":2.5,"strokeDash":[2.5,5.5]},"encoding":{"x":{"datum":0},"y":{"datum":0},"y2":{"datum":0.672}}},
  {"mark":{"type":"text","fontSize":22,"baseline":"alphabetic","color":"black"},"encoding":{"x":{"field":"mode","type":"quantitative"},"y":{"datum":0.9},"text":{"field":"ml"}}},
  {"mark":{"type":"text","fontSize":19.5,"color":"#006400","align":"right","dx":0,"baseline":"alphabetic"},"encoding":{"x":{"datum":0},"y":{"datum":0.7},"text":{"field":"cl"}}},
  {"mark":{"type":"rule","color":"black","strokeWidth":6,"strokeCap":"butt"},"encoding":{"x":{"field":"lo","type":"quantitative"},"x2":{"field":"hi"},"y":{"datum":0}}},
  {"mark":{"type":"text","fontSize":22,"baseline":"alphabetic","color":"black","dy":-29},"encoding":{"x":{"field":"mid","type":"quantitative"},"y":{"datum":0},"text":{"value":"95% HDI"}}},
  {"mark":{"type":"text","fontSize":22,"baseline":"alphabetic","color":"black","align":"left","dx":-51.2,"dy":-8},"encoding":{"x":{"field":"lo","type":"quantitative"},"y":{"datum":0},"text":{"field":"ll"}}},
  {"mark":{"type":"text","fontSize":22,"baseline":"alphabetic","color":"black","align":"left","dx":-12.5,"dy":-8},"encoding":{"x":{"field":"hi","type":"quantitative"},"y":{"datum":0},"text":{"field":"hl"}}}
 ]}
]},
{"width":348,"height":119,"layer":[
 {"data":{"name":"hist"},"transform":[{"filter":"datum.p==8"}],"mark":{"type":"rect","color":"#b4e0fa","stroke":"#b4e0fa","strokeWidth":0.6},
  "encoding":{"x":{"field":"a","type":"quantitative","scale":{"domain":[-0.4,0.3],"nice":false,"zero":false},"axis":{"title":"theta[1,3] - theta[3,3]","values":[-0.4,-0.3,-0.2,-0.1,0,0.1,0.2,0.3],"labelExpr":"(abs(datum.value+0.3)<0.001 || abs(datum.value+0.1)<0.001) ? '' : (datum.value < -0.001 ? '-' + format(-datum.value,'.1f') : format(abs(datum.value),'.1f'))"}},"x2":{"field":"b"},"y":{"field":"h","type":"quantitative","scale":{"domain":[-0.04,1.04],"nice":false,"zero":false},"axis":{"title":null}},"y2":{"datum":0}}},
 {"data":{"name":"stats"},"transform":[{"filter":"datum.p==8"}],"layer":[
  {"mark":{"type":"rule","color":"#006400","strokeWidth":2.5,"strokeDash":[2.5,5.5]},"encoding":{"x":{"datum":0},"y":{"datum":0},"y2":{"datum":0.672}}},
  {"mark":{"type":"text","fontSize":22,"baseline":"alphabetic","color":"black"},"encoding":{"x":{"field":"mode","type":"quantitative"},"y":{"datum":0.9},"text":{"field":"ml"}}},
  {"mark":{"type":"text","fontSize":19.5,"color":"#006400","align":"right","dx":0,"baseline":"alphabetic"},"encoding":{"x":{"datum":0},"y":{"datum":0.7},"text":{"field":"cl"}}},
  {"mark":{"type":"rule","color":"black","strokeWidth":6,"strokeCap":"butt"},"encoding":{"x":{"field":"lo","type":"quantitative"},"x2":{"field":"hi"},"y":{"datum":0}}},
  {"mark":{"type":"text","fontSize":22,"baseline":"alphabetic","color":"black","dy":-29},"encoding":{"x":{"field":"mid","type":"quantitative"},"y":{"datum":0},"text":{"value":"95% HDI"}}},
  {"mark":{"type":"text","fontSize":22,"baseline":"alphabetic","color":"black","align":"left","dx":-51.2,"dy":-8},"encoding":{"x":{"field":"lo","type":"quantitative"},"y":{"datum":0},"text":{"field":"ll"}}},
  {"mark":{"type":"text","fontSize":22,"baseline":"alphabetic","color":"black","align":"left","dx":-14.9,"dy":-8},"encoding":{"x":{"field":"hi","type":"quantitative"},"y":{"datum":0},"text":{"field":"hl"}}}
 ]}
]},
{"width":348,"height":119,"layer":[
 {"data":{"name":"hist"},"transform":[{"filter":"datum.p==9"}],"mark":{"type":"rect","color":"#b4e0fa","stroke":"#b4e0fa","strokeWidth":0.6},
  "encoding":{"x":{"field":"a","type":"quantitative","scale":{"domain":[-0.4,0.3],"nice":false,"zero":false},"axis":{"title":"theta[2,3] - theta[3,3]","values":[-0.4,-0.3,-0.2,-0.1,0,0.1,0.2,0.3],"labelExpr":"(abs(datum.value+0.3)<0.001 || abs(datum.value+0.1)<0.001) ? '' : (datum.value < -0.001 ? '-' + format(-datum.value,'.1f') : format(abs(datum.value),'.1f'))"}},"x2":{"field":"b"},"y":{"field":"h","type":"quantitative","scale":{"domain":[-0.04,1.04],"nice":false,"zero":false},"axis":{"title":null}},"y2":{"datum":0}}},
 {"data":{"name":"stats"},"transform":[{"filter":"datum.p==9"}],"layer":[
  {"mark":{"type":"rule","color":"#006400","strokeWidth":2.5,"strokeDash":[2.5,5.5]},"encoding":{"x":{"datum":0},"y":{"datum":0},"y2":{"datum":0.672}}},
  {"mark":{"type":"text","fontSize":22,"baseline":"alphabetic","color":"black"},"encoding":{"x":{"field":"mode","type":"quantitative"},"y":{"datum":0.9},"text":{"field":"ml"}}},
  {"mark":{"type":"text","fontSize":19.5,"color":"#006400","align":"left","dx":-16.9,"baseline":"alphabetic"},"encoding":{"x":{"datum":0},"y":{"datum":0.7},"text":{"field":"cl"}}},
  {"mark":{"type":"rule","color":"black","strokeWidth":6,"strokeCap":"butt"},"encoding":{"x":{"field":"lo","type":"quantitative"},"x2":{"field":"hi"},"y":{"datum":0}}},
  {"mark":{"type":"text","fontSize":22,"baseline":"alphabetic","color":"black","dy":-29},"encoding":{"x":{"field":"mid","type":"quantitative"},"y":{"datum":0},"text":{"value":"95% HDI"}}},
  {"mark":{"type":"text","fontSize":22,"baseline":"alphabetic","color":"black","align":"left","dx":-61.2,"dy":-8},"encoding":{"x":{"field":"lo","type":"quantitative"},"y":{"datum":0},"text":{"field":"ll"}}},
  {"mark":{"type":"text","fontSize":22,"baseline":"alphabetic","color":"black","align":"left","dx":-11,"dy":-8},"encoding":{"x":{"field":"hi","type":"quantitative"},"y":{"datum":0},"text":{"field":"hl"}}}
 ]}
]},
{"width":348,"height":119,"layer":[
 {"data":{"name":"hist"},"transform":[{"filter":"datum.p==10"}],"mark":{"type":"rect","color":"#b4e0fa","stroke":"#b4e0fa","strokeWidth":0.6},
  "encoding":{"x":{"field":"a","type":"quantitative","scale":{"domain":[-0.4,0.3],"nice":false,"zero":false},"axis":{"title":"theta[1,4] - theta[2,4]","values":[-0.4,-0.3,-0.2,-0.1,0,0.1,0.2,0.3],"labelExpr":"(abs(datum.value+0.3)<0.001 || abs(datum.value+0.1)<0.001) ? '' : (datum.value < -0.001 ? '-' + format(-datum.value,'.1f') : format(abs(datum.value),'.1f'))"}},"x2":{"field":"b"},"y":{"field":"h","type":"quantitative","scale":{"domain":[-0.04,1.04],"nice":false,"zero":false},"axis":{"title":"Out"}},"y2":{"datum":0}}},
 {"data":{"name":"stats"},"transform":[{"filter":"datum.p==10"}],"layer":[
  {"mark":{"type":"rule","color":"#006400","strokeWidth":2.5,"strokeDash":[2.5,5.5]},"encoding":{"x":{"datum":0},"y":{"datum":0},"y2":{"datum":0.672}}},
  {"mark":{"type":"text","fontSize":22,"baseline":"alphabetic","color":"black"},"encoding":{"x":{"field":"mode","type":"quantitative"},"y":{"datum":0.9},"text":{"field":"ml"}}},
  {"mark":{"type":"text","fontSize":19.5,"color":"#006400","align":"left","dx":0,"baseline":"alphabetic"},"encoding":{"x":{"datum":0},"y":{"datum":0.7},"text":{"field":"cl"}}},
  {"mark":{"type":"rule","color":"black","strokeWidth":6,"strokeCap":"butt"},"encoding":{"x":{"field":"lo","type":"quantitative"},"x2":{"field":"hi"},"y":{"datum":0}}},
  {"mark":{"type":"text","fontSize":22,"baseline":"alphabetic","color":"black","dy":-29},"encoding":{"x":{"field":"mid","type":"quantitative"},"y":{"datum":0},"text":{"value":"95% HDI"}}},
  {"mark":{"type":"text","fontSize":22,"baseline":"alphabetic","color":"black","align":"left","dx":-55.2,"dy":-8},"encoding":{"x":{"field":"lo","type":"quantitative"},"y":{"datum":0},"text":{"field":"ll"}}},
  {"mark":{"type":"text","fontSize":22,"baseline":"alphabetic","color":"black","align":"left","dx":-11,"dy":-8},"encoding":{"x":{"field":"hi","type":"quantitative"},"y":{"datum":0},"text":{"field":"hl"}}}
 ]}
]},
{"width":348,"height":119,"layer":[
 {"data":{"name":"hist"},"transform":[{"filter":"datum.p==11"}],"mark":{"type":"rect","color":"#b4e0fa","stroke":"#b4e0fa","strokeWidth":0.6},
  "encoding":{"x":{"field":"a","type":"quantitative","scale":{"domain":[-0.4,0.3],"nice":false,"zero":false},"axis":{"title":"theta[1,4] - theta[3,4]","values":[-0.4,-0.3,-0.2,-0.1,0,0.1,0.2,0.3],"labelExpr":"(abs(datum.value+0.3)<0.001 || abs(datum.value+0.1)<0.001) ? '' : (datum.value < -0.001 ? '-' + format(-datum.value,'.1f') : format(abs(datum.value),'.1f'))"}},"x2":{"field":"b"},"y":{"field":"h","type":"quantitative","scale":{"domain":[-0.04,1.04],"nice":false,"zero":false},"axis":{"title":null}},"y2":{"datum":0}}},
 {"data":{"name":"stats"},"transform":[{"filter":"datum.p==11"}],"layer":[
  {"mark":{"type":"rule","color":"#006400","strokeWidth":2.5,"strokeDash":[2.5,5.5]},"encoding":{"x":{"datum":0},"y":{"datum":0},"y2":{"datum":0.672}}},
  {"mark":{"type":"text","fontSize":22,"baseline":"alphabetic","color":"black"},"encoding":{"x":{"field":"mode","type":"quantitative"},"y":{"datum":0.9},"text":{"field":"ml"}}},
  {"mark":{"type":"text","fontSize":19.5,"color":"#006400","align":"left","dx":-10.4,"baseline":"alphabetic"},"encoding":{"x":{"datum":0},"y":{"datum":0.7},"text":{"field":"cl"}}},
  {"mark":{"type":"rule","color":"black","strokeWidth":6,"strokeCap":"butt"},"encoding":{"x":{"field":"lo","type":"quantitative"},"x2":{"field":"hi"},"y":{"datum":0}}},
  {"mark":{"type":"text","fontSize":22,"baseline":"alphabetic","color":"black","dy":-29},"encoding":{"x":{"field":"mid","type":"quantitative"},"y":{"datum":0},"text":{"value":"95% HDI"}}},
  {"mark":{"type":"text","fontSize":22,"baseline":"alphabetic","color":"black","align":"left","dx":-61.2,"dy":-8},"encoding":{"x":{"field":"lo","type":"quantitative"},"y":{"datum":0},"text":{"field":"ll"}}},
  {"mark":{"type":"text","fontSize":22,"baseline":"alphabetic","color":"black","align":"left","dx":-11,"dy":-8},"encoding":{"x":{"field":"hi","type":"quantitative"},"y":{"datum":0},"text":{"field":"hl"}}}
 ]}
]},
{"width":348,"height":119,"layer":[
 {"data":{"name":"hist"},"transform":[{"filter":"datum.p==12"}],"mark":{"type":"rect","color":"#b4e0fa","stroke":"#b4e0fa","strokeWidth":0.6},
  "encoding":{"x":{"field":"a","type":"quantitative","scale":{"domain":[-0.4,0.3],"nice":false,"zero":false},"axis":{"title":"theta[2,4] - theta[3,4]","values":[-0.4,-0.3,-0.2,-0.1,0,0.1,0.2,0.3],"labelExpr":"(abs(datum.value+0.3)<0.001 || abs(datum.value+0.1)<0.001) ? '' : (datum.value < -0.001 ? '-' + format(-datum.value,'.1f') : format(abs(datum.value),'.1f'))"}},"x2":{"field":"b"},"y":{"field":"h","type":"quantitative","scale":{"domain":[-0.04,1.04],"nice":false,"zero":false},"axis":{"title":null}},"y2":{"datum":0}}},
 {"data":{"name":"stats"},"transform":[{"filter":"datum.p==12"}],"layer":[
  {"mark":{"type":"rule","color":"#006400","strokeWidth":2.5,"strokeDash":[2.5,5.5]},"encoding":{"x":{"datum":0},"y":{"datum":0},"y2":{"datum":0.672}}},
  {"mark":{"type":"text","fontSize":22,"baseline":"alphabetic","color":"black"},"encoding":{"x":{"field":"mode","type":"quantitative"},"y":{"datum":0.9},"text":{"field":"ml"}}},
  {"mark":{"type":"text","fontSize":19.5,"color":"#006400","align":"left","dx":-143.5,"baseline":"alphabetic"},"encoding":{"x":{"datum":0},"y":{"datum":0.7},"text":{"field":"cl"}}},
  {"mark":{"type":"rule","color":"black","strokeWidth":6,"strokeCap":"butt"},"encoding":{"x":{"field":"lo","type":"quantitative"},"x2":{"field":"hi"},"y":{"datum":0}}},
  {"mark":{"type":"text","fontSize":22,"baseline":"alphabetic","color":"black","dy":-29},"encoding":{"x":{"field":"mid","type":"quantitative"},"y":{"datum":0},"text":{"value":"95% HDI"}}},
  {"mark":{"type":"text","fontSize":22,"baseline":"alphabetic","color":"black","align":"left","dx":-41.1,"dy":-8},"encoding":{"x":{"field":"lo","type":"quantitative"},"y":{"datum":0},"text":{"field":"ll"}}},
  {"mark":{"type":"text","fontSize":22,"baseline":"alphabetic","color":"black","align":"left","dx":-11,"dy":-8},"encoding":{"x":{"field":"hi","type":"quantitative"},"y":{"datum":0},"text":{"field":"hl"}}}
 ]}
]}
],
"config": {
 "font": "Liberation Sans",
 "view": {"stroke": null},
 "axis": {"grid": false},
 "axisX": {"domainColor": "black", "domainWidth": 1, "tickColor": "black", "tickWidth": 1, "tickSize": 7, "labelColor": "black", "labelFontSize": 19.5, "labelPadding": 19, "labelBaseline": "alphabetic", "labelFlush": false, "labelOverlap": false, "labelBound": false, "titleFontSize": 20, "titleFontWeight": "normal", "titleColor": "black", "titleBaseline": "alphabetic", "titleY": 52, "titleX": 171, "titleAlign": "center"},
 "axisY": {"domain": false, "ticks": false, "labels": false, "grid": false, "titleAngle": 0, "titleFontSize": 36, "titleFontWeight": "normal", "titleColor": "black", "titleX": -56.5, "titleY": 70.4, "titleAlign": "center", "titleBaseline": "alphabetic"},
 "title": {"fontSize": 36, "fontWeight": "normal", "color": "black", "anchor": "middle", "frame": "group", "baseline": "alphabetic", "offset": 23.5, "dx": -5},
 "text": {"color": "black"}
}
}
